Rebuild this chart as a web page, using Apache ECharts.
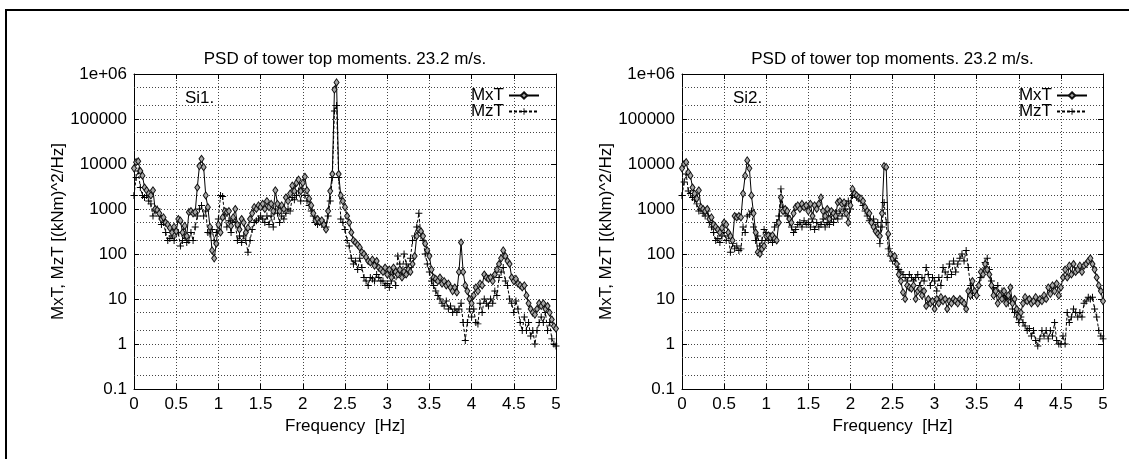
<!DOCTYPE html>
<html><head><meta charset="utf-8">
<script src="https://cdn.jsdelivr.net/npm/echarts@6/dist/echarts.min.js"></script>
<style>html,body{margin:0;padding:0;background:#fff}#c{width:1129px;height:459px}</style>
</head><body><div id="c"></div>
<script>
// ---------------- data ----------------
const FREQ_STEP = 0.025; // Hz between PSD samples (0 .. 5 Hz)
const titleText = 'PSD of tower top moments. 23.2 m/s.';
const panelLabels = ['Si1.', 'Si2.'];
const seriesNames = ['MxT', 'MzT'];
const yAxisName = 'MxT, MzT [(kNm)^2/Hz]';
const xAxisName = 'Frequency  [Hz]';
const yTickLabels = ['0.1', '1', '10', '100', '1000', '10000', '100000', '1e+06'];
const minorGridValues = [0.2, 0.5, 2, 5, 20, 50, 200, 500, 2000, 5000, 20000, 50000, 200000, 500000];

const si1_MxT = [
 8000,11000,11500,7000,5500,3000,2600,2200,2000,2600,1000,950,800,600,650,500,450,380,300,400,
 320,600,550,300,420,250,850,900,800,850,3000,9000,13000,8500,2000,1100,400,120,80,170,
 450,300,650,900,850,900,420,650,1000,450,350,600,500,300,380,600,800,1100,1000,1200,
 1100,1300,1000,1500,1100,1300,900,2600,1300,900,1200,1000,1800,1500,2200,3300,2500,3800,4500,2500,
 3800,5200,2600,1700,1200,800,550,600,520,560,450,350,900,2500,6000,450000,650000,6000,2000,1500,
 1100,700,500,300,200,180,160,140,110,100,85,70,65,75,55,70,50,45,40,50,
 35,45,30,50,40,35,45,30,40,35,45,40,60,90,250,350,320,250,170,120,
 90,45,30,28,25,30,22,25,20,22,18,15,18,14,40,180,40,20,15,10,
 8,12,18,15,22,20,35,30,28,30,25,35,45,60,80,120,90,70,60,30,
 25,28,22,20,18,20,12,8,6,5,4.5,6,8,7,8,6,7,5,3.5,2.5,
 2.2];
const si1_MzT = [
 2000,5000,7000,3000,2000,1800,2000,1500,1300,700,900,1000,700,450,500,300,200,220,250,200,
 280,300,150,200,250,180,200,300,200,400,700,1000,1200,700,900,300,280,350,200,300,
 600,2000,1900,700,400,550,300,600,500,200,250,180,250,200,110,200,350,500,550,600,
 700,600,500,700,450,700,400,1000,800,500,700,600,800,1000,900,1800,1600,2000,2500,1500,
 2800,2000,1500,1200,900,700,500,450,500,450,500,400,700,1500,5000,150000,200000,5000,600,500,
 350,200,150,80,60,70,45,80,50,30,25,20,30,28,25,35,30,25,25,20,
 22,18,25,40,20,90,60,30,100,60,50,80,200,250,400,800,250,200,100,60,
 40,25,20,15,12,10,8,7,9,6,7,5,6,5,6,8,3,1.2,3,6,
 4,6,3,2.8,8,5,10,8,7,10,8,15,12,30,40,50,25,20,10,8,
 5,9,6,3,2,4,2,3,1.5,2,1,2,3,4,3,5,2,3,1.3,1,
 0.9];
const si2_MxT = [
 8000,10000,11000,6500,5500,3000,2200,1700,2600,1100,1000,900,1000,600,650,450,400,350,300,380,
 500,450,300,250,200,700,650,700,650,2200,5500,12000,8000,2000,800,300,110,100,130,150,
 250,260,230,260,220,200,500,1800,900,1000,900,600,500,800,1100,1200,1000,1300,1100,1200,
 900,1300,700,1200,1000,1300,1800,900,700,1000,600,900,800,700,1400,1500,1300,1400,800,500,
 1200,2800,2200,2000,1800,1700,1500,1100,900,800,500,400,320,280,250,800,9000,8500,280,100,
 80,90,60,35,25,14,10,20,18,17,20,10,15,17,12,15,7,10,8,9,
 6,10,8,11,9,10,6,9,8,10,9,8,10,9,8,6,15,12,25,15,
 12,20,40,35,60,45,35,20,12,15,8,12,10,15,8,12,18,8,10,6,
 4,5,8,11,9,10,8,9,11,8,10,9,12,10,18,13,20,15,22,12,
 18,30,45,30,55,35,60,40,45,55,40,55,60,70,80,60,45,30,20,15,
 9];
const si2_MzT = [
 2000,4000,6000,2500,2200,1800,1600,1300,900,1000,800,700,900,500,400,300,200,220,180,250,
 300,200,250,110,170,130,150,120,130,400,300,700,750,900,400,200,250,150,200,350,
 300,200,250,180,400,500,700,2800,1100,800,700,500,400,300,350,450,500,400,550,450,
 500,400,600,350,500,400,450,600,400,500,450,600,500,800,600,900,700,1000,1300,1500,
 1000,2000,2200,1800,1700,1500,1200,900,700,550,500,600,400,500,170,400,1400,500,130,90,
 70,80,60,45,40,35,30,25,35,30,25,30,35,20,30,25,50,35,20,30,
 25,15,30,20,50,40,30,60,35,70,40,60,80,100,70,120,50,20,12,15,
 12,20,30,40,65,80,45,25,18,15,20,12,15,10,12,8,10,6,5,4,
 3,4,3,2.5,2,2.2,1.5,2,1.2,0.9,1.3,2,1.5,2,1.3,2,1.5,3,1.2,1,
 1,1.5,1,5,3,4,6,5,4,5,4,8,9,11,10,11,6,4,2,1.5,
 1.3];

// ---------------- chart ----------------
const FONT = 'Liberation Sans, Arial, Helvetica, sans-serif';
const FS = 17;
const PLUS = 'path://M4.3,0H5.7V4.3H10V5.7H5.7V10H4.3V5.7H0V4.3H4.3Z';
const GRIDS = [{left:134, top:74, width:422, height:315}, {left:682, top:74, width:421, height:315}];
const panels = [[si1_MxT, si1_MzT], [si2_MxT, si2_MzT]];
const dotted = {color:'#444', type:[1,2], width:1};

function pairs(vals){ return vals.map((v,i)=>[+(i*FREQ_STEP).toFixed(3), v]); }
function yFmt(v){ const e = Math.round(Math.log10(v)); return yTickLabels[e+1] || ''; }

const xAxis = [], yAxis = [], series = [], legend = [], graphic = [];
GRIDS.forEach((g, k) => {
  xAxis.push({type:'value', gridIndex:k, min:0, max:5, interval:0.5, position:'bottom',
    axisLine:{show:true, onZero:false, lineStyle:{color:'#000', width:1}},
    axisTick:{show:true, inside:true, length:5, lineStyle:{color:'#000'}},
    axisLabel:{fontSize:FS, color:'#000', margin:7, fontFamily:FONT},
    splitLine:{show:true, lineStyle:dotted},
    name:xAxisName, nameLocation:'middle', nameGap:24,
    nameTextStyle:{fontSize:FS, color:'#000', fontFamily:FONT}});
  xAxis.push({type:'value', gridIndex:k, min:0, max:5, interval:0.5, position:'top',
    axisLine:{show:true, onZero:false, lineStyle:{color:'#000', width:1}},
    axisTick:{show:true, inside:true, length:5, lineStyle:{color:'#000'}},
    axisLabel:{show:false}, splitLine:{show:false}});
  yAxis.push({type:'log', logBase:10, gridIndex:k, min:0.1, max:1e6, interval:1, position:'left',
    axisLine:{show:true, onZero:false, lineStyle:{color:'#000', width:1}},
    axisTick:{show:true, inside:true, length:5, lineStyle:{color:'#000'}},
    axisLabel:{fontSize:FS, color:'#000', margin:7, fontFamily:FONT, formatter:yFmt},
    splitLine:{show:true, lineStyle:dotted},
    name:yAxisName, nameLocation:'middle', nameGap:67,
    nameTextStyle:{fontSize:FS, color:'#000', fontFamily:FONT}});
  yAxis.push({type:'log', logBase:10, gridIndex:k, min:0.1, max:1e6, interval:1, position:'right',
    axisLine:{show:true, onZero:false, lineStyle:{color:'#000', width:1}},
    axisTick:{show:true, inside:true, length:5, lineStyle:{color:'#000'}},
    axisLabel:{show:false}, splitLine:{show:false}});

  // minor (2 and 5) grid lines of the log axis
  series.push({type:'line', xAxisIndex:2*k, yAxisIndex:2*k, data:[], silent:true, z:1,
    markLine:{silent:true, z:1, animation:false, symbol:['none','none'], label:{show:false},
      lineStyle:dotted, emphasis:{disabled:true},
      data:minorGridValues.map(v=>({yAxis:v}))}});

  const [mx, mz] = panels[k];
  series.push({name:seriesNames[1], type:'line', xAxisIndex:2*k, yAxisIndex:2*k, data:pairs(mz),
    symbol:PLUS, symbolSize:7, showSymbol:true, showAllSymbol:true, z:3,
    lineStyle:{color:'#000', width:1, type:[3,2]}, itemStyle:{color:'#000'}});
  series.push({name:seriesNames[0], type:'line', xAxisIndex:2*k, yAxisIndex:2*k, data:pairs(mx),
    symbol:'diamond', symbolSize:[5,7], showSymbol:true, showAllSymbol:true, z:4,
    lineStyle:{color:'#000', width:1}, itemStyle:{color:'#a8a8a8', borderColor:'#111', borderWidth:1}});

  legend.push({data:seriesNames.slice(), orient:'vertical', align:'right',
    right: k === 0 ? 589 : 41, top:87, padding:0, itemGap:-1, itemWidth:30, itemHeight:8,
    selectedMode:false, textStyle:{fontSize:FS, color:'#000', fontFamily:FONT}});

  const cx = g.left + g.width/2;
  graphic.push({type:'text', x:cx, y:59, silent:true,
    style:{text:titleText, textAlign:'center', textVerticalAlign:'middle', fontSize:FS, fontFamily:FONT, fill:'#000'}});
  graphic.push({type:'text', x:g.left + 51, y:98, silent:true,
    style:{text:panelLabels[k], textAlign:'left', textVerticalAlign:'middle', fontSize:FS, fontFamily:FONT, fill:'#000'}});
});
graphic.push({type:'rect', silent:true, shape:{x:6, y:10, width:1400, height:800},
  style:{fill:'none', stroke:'#000', lineWidth:2}});

const chart = echarts.init(document.getElementById('c'), null, {renderer:'canvas'});
chart.setOption({
  animation:false,
  backgroundColor:'#fff',
  textStyle:{fontFamily:FONT},
  grid: GRIDS.map(g => Object.assign({containLabel:false}, g)),
  xAxis, yAxis, series, legend, graphic
});
</script></body></html>
